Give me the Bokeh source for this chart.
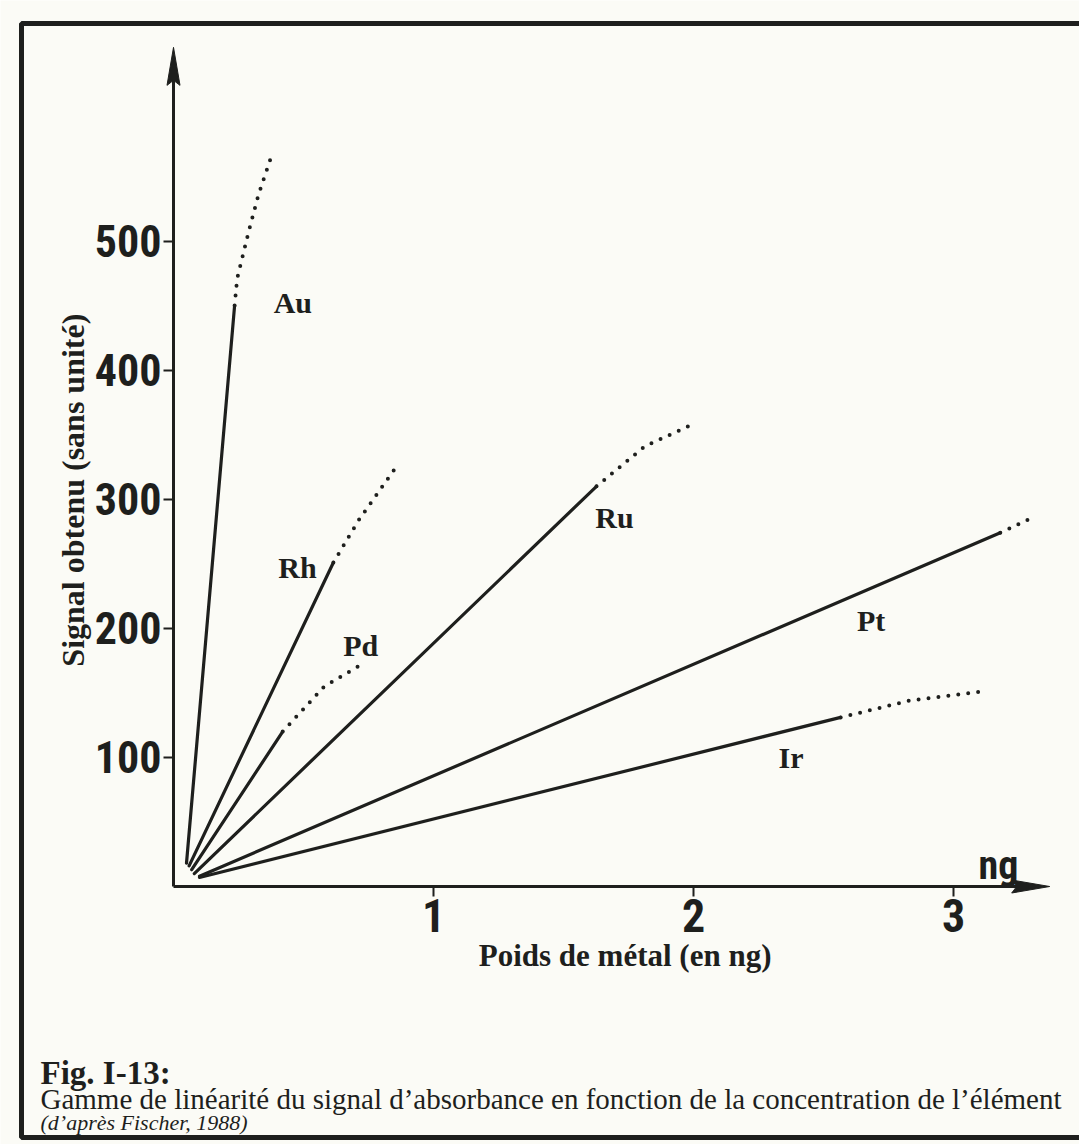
import math
from bokeh.plotting import figure
from bokeh.models import Range1d, FixedTicker, BoxAnnotation
from bokeh.core.properties import value
from bokeh.embed import file_html
from bokeh.resources import INLINE

# ---------------- data ----------------
elements = ["Au", "Rh", "Pd", "Ru", "Pt", "Ir"]

# linear (solid) part of each calibration curve: x = ng, y = signal
au_x = [0.05, 0.235]
au_y = [18, 450]
rh_x = [0.06, 0.615]
rh_y = [16, 251]
pd_x = [0.07, 0.42]
pd_y = [13, 120]
ru_x = [0.08, 1.627]
ru_y = [10, 310]
pt_x = [0.10, 3.18]
pt_y = [8, 274]
ir_x = [0.10, 2.566]
ir_y = [7, 131]

# non-linear (dotted) continuation
au_dot_x = [0.235, 0.245, 0.29, 0.327, 0.377]
au_dot_y = [450, 471, 508, 536, 566]
rh_dot_x = [0.615, 0.713, 0.86]
rh_dot_y = [251, 284, 326]
pd_dot_x = [0.42, 0.58, 0.74]
pd_dot_y = [120, 155, 174]
ru_dot_x = [1.627, 1.813, 1.997]
ru_dot_y = [310, 341, 358]
pt_dot_x = [3.18, 3.285]
pt_dot_y = [274, 284]
ir_dot_x = [2.566, 2.831, 3.108]
ir_dot_y = [131, 144, 151]

# element label anchor points (data units)
label_x = [0.459, 0.477, 0.72, 1.696, 2.683, 2.375]
label_y = [452, 247, 187, 286, 206, 100]

x_ticks = [1, 2, 3]
y_ticks = [100, 200, 300, 400, 500]
x_axis_end = 3.37
y_axis_end = 650

x_title = "Poids de métal (en ng)"
y_title = "Signal obtenu (sans unité)"
unit_label = "ng"
caption_head = "Fig. I-13:"
caption_body = "Gamme de linéarité du signal d’absorbance en fonction de la concentration de l’élément"
caption_src = "(d’après Fischer, 1988)"

# ---------------- layout helpers (page pixels -> data) ----------------
OX, OY, SX, SY = 173.0, 886.0, 260.0, 1.291
W, H = 1079, 1144


def X(px):
    return (px - OX) / SX


def Y(py):
    return (OY - py) / SY


INK = "#1e1f1d"
PAPER = "#fbfbf6"
SERIF = "Liberation Serif"
SANS_COND = "Roboto Condensed"

p = figure(width=W, height=H,
           x_range=Range1d(X(0), X(W)), y_range=Range1d(Y(H), Y(0)),
           output_backend="svg", toolbar_location=None, min_border=0,
           background_fill_color=PAPER, border_fill_color=PAPER)
p.grid.visible = False
p.outline_line_color = None

# axes crossing at the origin
for ax in (p.xaxis, p.yaxis):
    ax.fixed_location = 0
    ax.axis_line_color = INK
    ax.axis_line_width = 3
    ax.major_tick_line_color = INK
    ax.major_tick_line_width = 2
    ax.major_tick_out = 10
    ax.major_tick_in = 0
    ax.minor_tick_line_color = None
    ax.major_label_text_font = SANS_COND
    ax.major_label_text_font_style = "bold"
    ax.major_label_text_color = INK
    ax.major_label_standoff = 2
p.yaxis.major_label_text_font_size = "44px"
p.xaxis.major_label_text_font_size = "46px"
p.xaxis.ticker = FixedTicker(ticks=x_ticks)
p.yaxis.ticker = FixedTicker(ticks=y_ticks)
p.xaxis.bounds = (0, x_axis_end - 0.08)
p.yaxis.bounds = (0, y_axis_end - 20)

# arrow heads (pixel-sized, converted to data units)
ah_len, ah_half, ah_notch = 38.0, 6.5, 5.0
p.patch([-ah_half / SX, 0, ah_half / SX, 0],
        [y_axis_end - ah_len / SY, y_axis_end, y_axis_end - ah_len / SY, y_axis_end - (ah_len - ah_notch) / SY],
        color=INK, line_width=1)
p.patch([x_axis_end - ah_len / SX, x_axis_end, x_axis_end - ah_len / SX, x_axis_end - (ah_len - ah_notch) / SX],
        [-ah_half / SY, 0, ah_half / SY, 0],
        color=INK, line_width=1)

# curves
solid = [(au_x, au_y), (rh_x, rh_y), (pd_x, pd_y), (ru_x, ru_y), (pt_x, pt_y), (ir_x, ir_y)]
dotted = [(au_dot_x, au_dot_y), (rh_dot_x, rh_dot_y), (pd_dot_x, pd_dot_y),
          (ru_dot_x, ru_dot_y), (pt_dot_x, pt_dot_y), (ir_dot_x, ir_dot_y)]
for xs, ys in solid:
    p.line(xs, ys, line_color=INK, line_width=3.2, line_cap="round")
for xs, ys in dotted:
    p.line(xs, ys, line_color=INK, line_width=4, line_dash="0 10", line_cap="round")

# element labels
p.text(x=label_x, y=label_y, text=elements, text_font=value(SERIF), text_font_style="bold",
       text_font_size="30px", text_align="center", text_baseline="middle", text_color=INK)

# axis titles and unit
p.text(x=[X(72)], y=[307], text=[y_title], angle=math.pi / 2, text_font=value(SERIF),
       text_font_style="bold", text_font_size="32px", text_align="center", text_baseline="middle",
       text_color=INK)
p.text(x=[1.737], y=[Y(955)], text=[x_title], text_font=value(SERIF), text_font_style="bold",
       text_font_size="31px", text_align="center", text_baseline="middle", text_color=INK)
p.text(x=[3.173], y=[16], text=[unit_label], text_font=value(SANS_COND), text_font_style="bold",
       text_font_size="40px", text_align="center", text_baseline="middle", text_color=INK)

# caption
p.text(x=[X(40)], y=[Y(1072)], text=[caption_head], text_font=value(SERIF), text_font_style="bold",
       text_font_size="33px", text_align="left", text_baseline="middle", text_color=INK)
p.text(x=[X(40)], y=[Y(1098)], text=[caption_body], text_font=value(SERIF),
       text_font_size="29px", text_align="left", text_baseline="middle", text_color=INK)
p.text(x=[X(40)], y=[Y(1122)], text=[caption_src], text_font=value(SERIF), text_font_style="italic",
       text_font_size="22px", text_align="left", text_baseline="middle", text_color=INK)

# printed frame around the figure (open on the right, cropped by the scan)
p.add_layout(BoxAnnotation(left=X(21), right=X(1400), top=Y(23), bottom=Y(1137),
                           fill_color=None, line_color=INK, line_alpha=1.0, line_width=5))

open("out.html", "w").write(file_html(p, INLINE))
